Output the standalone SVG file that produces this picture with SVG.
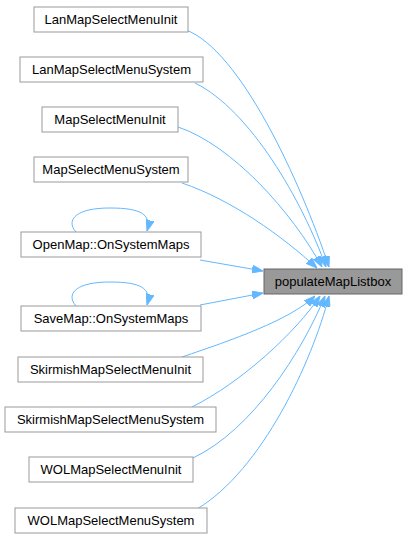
<svg xmlns="http://www.w3.org/2000/svg" width="407" height="541" viewBox="0 0 407 541">
<style>
.n rect{fill:#ffffff;stroke:#999999;stroke-width:1}
.t rect{fill:#999999;stroke:#666666;stroke-width:1}
text{font-family:"Liberation Sans",Arial,sans-serif;font-size:13px;fill:#000000;text-anchor:middle}
.e path{fill:none;stroke:#63b8ff;stroke-width:1;marker-end:url(#ah)}
</style>
<defs>
<marker id="ah" markerUnits="userSpaceOnUse" markerWidth="11" markerHeight="8" refX="11" refY="4" orient="auto">
<path d="M0,0 L11,4 L0,8 z" fill="#63b8ff" stroke="#63b8ff"/>
</marker>
</defs>
<g id="edges" class="e">
<path d="M186,30 C240,50 300,180 329,267"/>
<path d="M195,83 C250,110 302,200 326,267"/>
<path d="M178,127 C232,145 292,212 322,267"/>
<path d="M182,183 C232,200 282,236 317,268"/>
<path d="M76,232 C66,221 74,208 110,208 C140,208 152,214 147,231"/>
<path d="M200,260 L263,271"/>
<path d="M76,306 C66,295 74,282 110,282 C140,282 152,288 147,305"/>
<path d="M200,305 L263,293"/>
<path d="M182,357 C232,340 290,320 315,296"/>
<path d="M192,407 C242,382 296,332 320,296"/>
<path d="M193,458 C252,430 302,352 325,296"/>
<path d="M197,509 C262,470 312,362 329,296"/>
</g>
<g id="populateMapListbox" class="t"><rect x="264" y="269" width="138" height="25"/><text x="333" y="286">populateMapListbox</text></g>
<g id="LanMapSelectMenuInit" class="n"><rect x="34" y="7" width="154" height="25"/><text x="111" y="24">LanMapSelectMenuInit</text></g>
<g id="LanMapSelectMenuSystem" class="n"><rect x="20" y="57" width="183" height="25"/><text x="111.5" y="74">LanMapSelectMenuSystem</text></g>
<g id="MapSelectMenuInit" class="n"><rect x="42" y="107" width="136" height="25"/><text x="110" y="124">MapSelectMenuInit</text></g>
<g id="MapSelectMenuSystem" class="n"><rect x="34" y="157" width="154" height="25"/><text x="111" y="174">MapSelectMenuSystem</text></g>
<g id="OpenMap_OnSystemMaps" class="n"><rect x="21" y="232" width="180" height="25"/><text x="111" y="249">OpenMap::OnSystemMaps</text></g>
<g id="SaveMap_OnSystemMaps" class="n"><rect x="21" y="306" width="180" height="25"/><text x="111" y="323">SaveMap::OnSystemMaps</text></g>
<g id="SkirmishMapSelectMenuInit" class="n"><rect x="18" y="357" width="185" height="25"/><text x="110.5" y="374">SkirmishMapSelectMenuInit</text></g>
<g id="SkirmishMapSelectMenuSystem" class="n"><rect x="5" y="407" width="211" height="25"/><text x="110.5" y="424">SkirmishMapSelectMenuSystem</text></g>
<g id="WOLMapSelectMenuInit" class="n"><rect x="29" y="457" width="164" height="25"/><text x="111" y="474">WOLMapSelectMenuInit</text></g>
<g id="WOLMapSelectMenuSystem" class="n"><rect x="15" y="508" width="192" height="25"/><text x="111" y="525">WOLMapSelectMenuSystem</text></g>
</svg>
